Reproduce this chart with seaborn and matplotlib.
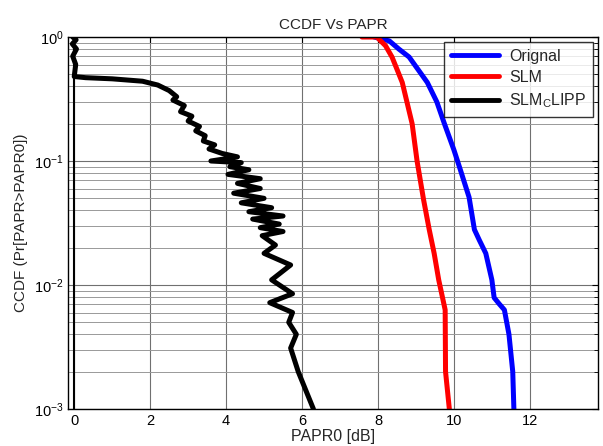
import numpy as np
import pandas as pd
import seaborn as sns
import matplotlib
matplotlib.use('Agg')
import matplotlib.pyplot as plt
from matplotlib.ticker import LogLocator, NullFormatter

# data (x in dB, y = CCDF)
orig_x = [7.9, 8.3, 8.55, 8.82, 9.05, 9.3, 9.55, 9.75, 10.0, 10.17, 10.4, 10.54,
          10.67, 10.84, 11.0, 11.06, 11.2, 11.33, 11.45, 11.55, 11.58]
orig_y = [1.0, 0.93, 0.8, 0.69, 0.55, 0.43, 0.3, 0.2, 0.123, 0.085, 0.051, 0.028,
          0.023, 0.018, 0.011, 0.0079, 0.007, 0.0063, 0.004, 0.002, 0.001]

slm_x = [7.58, 7.97, 8.2, 8.37, 8.5, 8.64, 8.9, 9.03, 9.2, 9.35, 9.48, 9.6, 9.77, 9.78, 9.88]
slm_y = [1.0, 1.0, 0.85, 0.69, 0.55, 0.43, 0.2, 0.1, 0.049, 0.028, 0.018, 0.011, 0.0063, 0.002, 0.001]

clip_x = [-0.04, 0.05, -0.05, 0.06, -0.04, 0.04, 0.0, 0.3, 1.0, 1.8, 2.2, 2.5, 2.7, 2.6,
          2.9, 2.8, 3.1, 3.0, 3.3, 3.2, 3.45, 3.4, 3.7, 3.55, 3.9, 4.3, 3.6, 4.4, 4.1, 4.6,
          4.05, 4.9, 4.3, 4.9, 4.2, 5.0, 4.4, 5.2, 4.6, 5.5, 4.7, 5.4, 4.9, 5.5, 4.95, 5.3,
          5.0, 5.7, 5.2, 5.75, 5.15, 5.75, 5.65, 5.85, 5.7, 5.9, 6.3]
clip_y = [1.0, 0.95, 0.88, 0.8, 0.7, 0.6, 0.48, 0.47, 0.46, 0.44, 0.41, 0.37, 0.33, 0.31,
          0.28, 0.25, 0.23, 0.21, 0.19, 0.175, 0.16, 0.145, 0.135, 0.125, 0.115, 0.108, 0.1,
          0.097, 0.09, 0.085, 0.078, 0.072, 0.066, 0.06, 0.055, 0.05, 0.046, 0.042, 0.039,
          0.036, 0.034, 0.031, 0.029, 0.027, 0.025, 0.021, 0.018, 0.0145, 0.011, 0.0085,
          0.0072, 0.006, 0.005, 0.004, 0.0031, 0.002, 0.001]

xticks = [0, 2, 4, 6, 8, 10, 12]

sns.set_style('white')
plt.rcParams['font.family'] = ['Liberation Sans', 'DejaVu Sans']
plt.rcParams['mathtext.fontset'] = 'custom'
plt.rcParams['mathtext.rm'] = 'Liberation Sans'
plt.rcParams['mathtext.it'] = 'Liberation Sans'

fig = plt.figure(figsize=(6.03, 4.46), dpi=100)
ax = fig.add_axes([0.113, 0.083, 0.879, 0.834])

ax.axvline(0, color='black', lw=1.5, zorder=2)
sns.lineplot(x=orig_x, y=orig_y, sort=False, estimator=None, color='#0000ff', lw=3.6, label='Orignal', ax=ax)
sns.lineplot(x=slm_x, y=slm_y, sort=False, estimator=None, color='#ff0000', lw=3.6, label='SLM', ax=ax)
sns.lineplot(x=clip_x, y=clip_y, sort=False, estimator=None, color='black', lw=3.6, label='SLM$_C$LIPP', ax=ax)

ax.set_yscale('log')
ax.set_ylim(1e-3, 1)
ax.set_xlim(-0.16, 13.8)
ax.set_xticks(xticks)
ax.yaxis.set_major_locator(LogLocator(base=10, numticks=10))
ax.yaxis.set_minor_locator(LogLocator(base=10, subs=np.arange(2, 10), numticks=50))
ax.yaxis.set_minor_formatter(NullFormatter())

ax.grid(True, which='major', axis='both', color='#707070', lw=0.8)
ax.grid(True, which='minor', axis='y', color='#999999', lw=0.7)
ax.tick_params(which='both', direction='in', top=True, right=True, labelsize=10.5, colors='black')
ax.tick_params(which='major', length=4)
ax.tick_params(which='minor', length=3)
for s in ax.spines.values():
    s.set_color('black')
    s.set_linewidth(1.0)

ax.set_title('CCDF Vs PAPR', fontsize=11, pad=6)
ax.set_xlabel('PAPR0 [dB]', fontsize=11.5, labelpad=1)
ax.set_ylabel('CCDF (Pr[PAPR>PAPR0])', fontsize=11, labelpad=4)

leg = ax.legend(loc='upper right', fontsize=11.5, handlelength=3.0, frameon=True, fancybox=False,
                borderaxespad=0.3, labelspacing=0.38, borderpad=0.45, handletextpad=0.6)
leg.get_frame().set_edgecolor('black')
leg.get_frame().set_linewidth(1.0)
for line in leg.get_lines():
    line.set_linewidth(3.5)

fig.savefig('out.png', dpi=100)
